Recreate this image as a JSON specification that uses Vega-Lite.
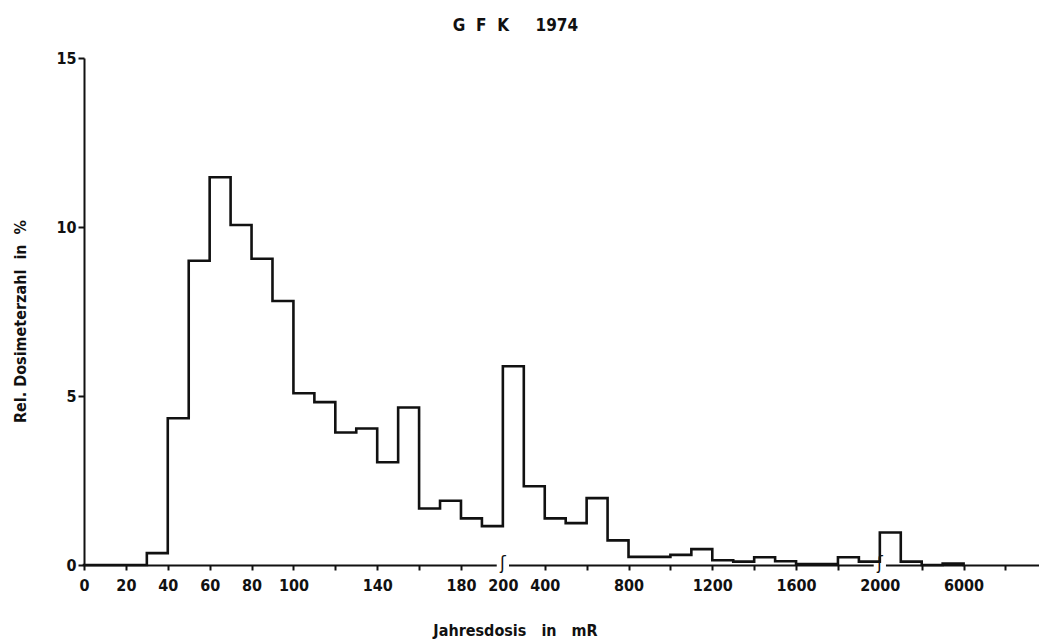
{
  "$schema": "https://vega.github.io/schema/vega-lite/v6.json",
  "width": 955,
  "height": 507,
  "autosize": {"type": "none"},
  "padding": {"left": 84, "top": 58, "right": 0, "bottom": 76},
  "background": "white",
  "title": {
    "text": "G\u00a0\u00a0F\u00a0\u00a0K\u00a0\u00a0\u00a0\u00a0\u00a01974",
    "frame": "group",
    "anchor": "middle",
    "dx": -46,
    "offset": 2,
    "baseline": "alphabetic",
    "font": "Liberation Sans Narrow, DejaVu Sans Condensed, sans-serif",
    "fontSize": 17,
    "fontWeight": "bold",
    "color": "#111"
  },
  "config": {
    "view": {"stroke": null},
    "axis": {
      "labelFont": "Liberation Sans Narrow, DejaVu Sans Condensed, sans-serif",
      "labelFontSize": 16,
      "labelFontWeight": "bold",
      "labelColor": "#111",
      "titleFont": "Liberation Sans Narrow, DejaVu Sans Condensed, sans-serif",
      "titleFontSize": 16,
      "titleFontWeight": "bold",
      "titleColor": "#111",
      "domainColor": "#111",
      "tickColor": "#111",
      "grid": false,
      "zindex": 0
    }
  },
  "datasets": {
    "verteilung": [
      {"von": 0, "pos": 0, "anteil": 0},
      {"von": 10, "pos": 1, "anteil": 0},
      {"von": 20, "pos": 2, "anteil": 0},
      {"von": 30, "pos": 3, "anteil": 0.35},
      {"von": 40, "pos": 4, "anteil": 4.34},
      {"von": 50, "pos": 5, "anteil": 9.0},
      {"von": 60, "pos": 6, "anteil": 11.47},
      {"von": 70, "pos": 7, "anteil": 10.06},
      {"von": 80, "pos": 8, "anteil": 9.06},
      {"von": 90, "pos": 9, "anteil": 7.81},
      {"von": 100, "pos": 10, "anteil": 5.08},
      {"von": 110, "pos": 11, "anteil": 4.82},
      {"von": 120, "pos": 12, "anteil": 3.92},
      {"von": 130, "pos": 13, "anteil": 4.04},
      {"von": 140, "pos": 14, "anteil": 3.04},
      {"von": 150, "pos": 15, "anteil": 4.66},
      {"von": 160, "pos": 16, "anteil": 1.67},
      {"von": 170, "pos": 17, "anteil": 1.9},
      {"von": 180, "pos": 18, "anteil": 1.38},
      {"von": 190, "pos": 19, "anteil": 1.15},
      {"von": 200, "pos": 20, "anteil": 5.88},
      {"von": 300, "pos": 21, "anteil": 2.33},
      {"von": 400, "pos": 22, "anteil": 1.38},
      {"von": 500, "pos": 23, "anteil": 1.24},
      {"von": 600, "pos": 24, "anteil": 1.98},
      {"von": 700, "pos": 25, "anteil": 0.73},
      {"von": 800, "pos": 26, "anteil": 0.24},
      {"von": 900, "pos": 27, "anteil": 0.24},
      {"von": 1000, "pos": 28, "anteil": 0.3},
      {"von": 1100, "pos": 29, "anteil": 0.47},
      {"von": 1200, "pos": 30, "anteil": 0.14},
      {"von": 1300, "pos": 31, "anteil": 0.1},
      {"von": 1400, "pos": 32, "anteil": 0.23},
      {"von": 1500, "pos": 33, "anteil": 0.11},
      {"von": 1600, "pos": 34, "anteil": 0.03},
      {"von": 1700, "pos": 35, "anteil": 0.03},
      {"von": 1800, "pos": 36, "anteil": 0.23},
      {"von": 1900, "pos": 37, "anteil": 0.1},
      {"von": 2000, "pos": 38, "anteil": 0.96},
      {"von": 3000, "pos": 39, "anteil": 0.1},
      {"von": 4000, "pos": 40, "anteil": 0},
      {"von": 5000, "pos": 41, "anteil": 0.04},
      {"von": 6000, "pos": 42, "anteil": 0}
    ],
    "bruch": [
      {"bei_mR": 200, "pos": 20, "anteil": 0},
      {"bei_mR": 2000, "pos": 38, "anteil": 0}
    ]
  },
  "encoding": {
    "x": {
      "field": "pos",
      "type": "quantitative",
      "scale": {"domain": [0, 45.6], "nice": false, "zero": false},
      "axis": {
        "title": "Jahresdosis\u00a0\u00a0\u00a0in\u00a0\u00a0\u00a0mR",
        "titleX": 431,
        "titleY": 70,
        "titleAlign": "center",
        "titleBaseline": "alphabetic",
        "values": [0,2,4,6,8,10,12,14,16,18,20,22,24,26,28,30,32,34,36,38,40,42,44],
        "labelExpr": "['0','20','40','60','80','100','','140','','180','200','400','','800','','1200','','1600','','2000','','6000',''][datum.value/2]",
        "labelBaseline": "top",
        "labelPadding": 7,
        "labelFlush": false,
        "labelOverlap": false,
        "domainWidth": 2,
        "tickWidth": 2,
        "tickSize": 5,
        "tickOpacity": {"condition": {"test": "datum.value == 20 || datum.value == 38", "value": 0}, "value": 1}
      }
    },
    "y": {
      "field": "anteil",
      "type": "quantitative",
      "scale": {"domain": [0, 15], "nice": false},
      "axis": {
        "title": "Rel.\u00a0Dosimeterzahl\u00a0\u00a0in\u00a0\u00a0%",
        "titleX": -59,
        "titleY": 263,
        "titleAngle": -90,
        "titleAlign": "center",
        "titleBaseline": "alphabetic",
        "values": [0, 5, 10, 15],
        "labelPadding": 2,
        "domainWidth": 2,
        "tickWidth": 2,
        "tickSize": 6
      }
    }
  },
  "layer": [
    {
      "data": {"name": "bruch"},
      "mark": {"type": "point", "shape": "square", "filled": true, "color": "white", "opacity": 1, "size": 150, "strokeWidth": 0}
    },
    {
      "data": {"name": "verteilung"},
      "mark": {"type": "line", "interpolate": "step-after", "color": "#111", "strokeWidth": 2.6, "strokeJoin": "miter", "strokeCap": "square"}
    },
    {
      "data": {"name": "bruch"},
      "mark": {"type": "text", "text": "ʃ", "font": "DejaVu Sans", "fontSize": 17, "dy": -1, "baseline": "middle", "align": "center", "color": "#111"}
    }
  ]
}
